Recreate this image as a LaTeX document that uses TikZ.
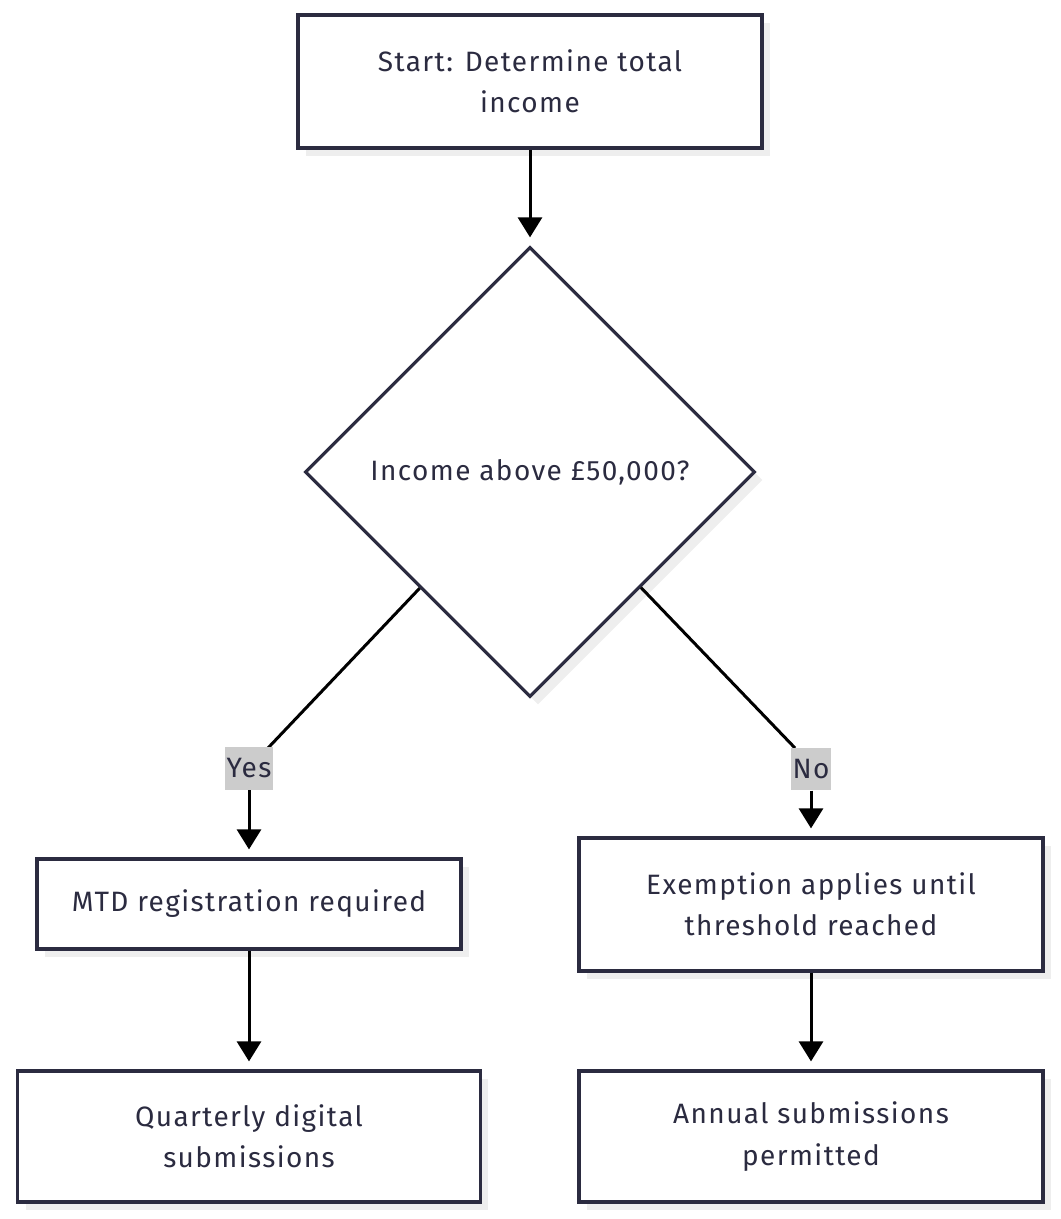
\documentclass[tikz,border=0pt]{standalone}
\usepackage{fontspec}
\setmainfont{Fira Sans}[LetterSpace=5]
\usepackage{tikz}
\usetikzlibrary{arrows.meta,shapes.geometric,shadows}
\definecolor{ink}{HTML}{2B2B40}
\definecolor{shade}{HTML}{EEEEEE}
\definecolor{tagbg}{HTML}{CCCCCC}

\begin{document}
\begin{tikzpicture}[x=0.75pt, y=-0.75pt,
    txt/.style={text=ink, font=\fontsize{21}{31}\selectfont},
    box/.style={txt, draw=ink, line width=2.4pt, fill=white, align=center, inner sep=0pt,
        drop shadow={shadow xshift=6pt, shadow yshift=-6pt, fill=shade, opacity=1}},
    decision/.style={box, diamond, aspect=1, minimum size=337.5pt},
    tag/.style={txt, fill=tagbg, inner xsep=1pt, inner ysep=0pt, minimum height=32pt},
    link/.style={black, line width=2.25pt},
    arrow/.style={link, -{Triangle[length=15pt, width=18pt]}, shorten >=6pt}]
    \useasboundingbox (0,0) rectangle (1060,1219);

    \node[box, minimum width=348pt, minimum height=99.75pt] (start) at (530,81.5) {Start: Determine total\\income};
    \node[decision] (dec) at (530,472) {Income above £50,000?};
    \node[box, minimum width=318pt, minimum height=67.5pt] (mtd) at (249,904) {MTD registration required};
    \node[box, minimum width=348pt, minimum height=99.75pt] (exempt) at (811,904.5) {Exemption applies until\\threshold reached};
    \node[box, minimum width=347pt, minimum height=98.25pt] (quarter) at (249,1136.5) {Quarterly digital\\submissions};
    \node[box, minimum width=348pt, minimum height=98.25pt] (annual) at (811,1136.5) {Annual submissions\\permitted};

    \coordinate (yesbend) at (268,748);
    \coordinate (nobend) at (795,748);
    \draw[arrow] (start) -- (dec);
    \draw[link] (dec) -- (yesbend);
    \draw[link] (dec) -- (nobend);

    % 分支标签
    \node[tag] (yes) at (249,768.5) {Yes};
    \node[tag] (no) at (811,769) {No};

    \draw[arrow] (yes) -- (mtd);
    \draw[arrow] (no) -- (exempt);
    \draw[arrow] (mtd) -- (quarter);
    \draw[arrow] (exempt) -- (annual);
\end{tikzpicture}
\end{document}
